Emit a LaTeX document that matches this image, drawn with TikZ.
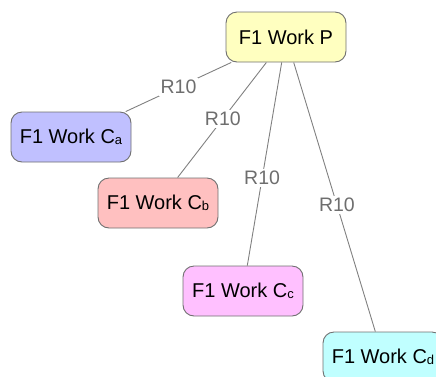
\documentclass[tikz,border=0pt]{standalone}
\usepackage{fontspec}
\setmainfont{Liberation Sans}
\newcommand{\sublbl}[1]{\raisebox{-1pt}{\fontsize{13}{13}\selectfont #1}}
\definecolor{boxline}{HTML}{707070}
\definecolor{edgeline}{HTML}{808080}
\definecolor{lbltext}{HTML}{6E6E6E}
\definecolor{pfill}{HTML}{FFFFC0}
\definecolor{afill}{HTML}{C0C0FF}
\definecolor{bfill}{HTML}{FFC0C0}
\definecolor{cfill}{HTML}{FFC0FF}
\definecolor{dfill}{HTML}{C0FFFF}
\tikzset{
  workbox/.style={draw=boxline, line width=0.9pt, rounded corners=11pt,
    minimum width=120pt, minimum height=50pt, inner sep=0pt,
    font=\fontsize{20}{24}\selectfont, text=black},
  link/.style={draw=edgeline, line width=0.9pt},
  rlabel/.style={fill=white, inner sep=2pt, text=lbltext,
    font=\fontsize{19.5}{22}\selectfont}
}
\begin{document}
\begin{tikzpicture}[x=1pt, y=-1pt]
  \useasboundingbox (0,0) rectangle (436,376);
  \clip (0,0) rectangle (436,376);
  \node[workbox, fill=pfill] (P)  at (286,37)  {F1 Work P};
  \node[workbox, fill=afill] (Ca) at (71,137)  {F1 Work C\sublbl{a}};
  \node[workbox, fill=bfill] (Cb) at (158,203) {F1 Work C\sublbl{b}};
  \node[workbox, fill=cfill] (Cc) at (243,291) {F1 Work C\sublbl{c}};
  \node[workbox, fill=dfill] (Cd) at (383,357) {F1 Work C\sublbl{d}};
  \draw[link] (P) -- node[rlabel, pos=0.5]  {R10} (Ca);
  \draw[link] (P) -- node[rlabel, pos=0.49] {R10} (Cb);
  \draw[link] (P) -- node[rlabel, pos=0.57] {R10} (Cc);
  \draw[link] (P) -- node[rlabel, pos=0.53] {R10} (Cd);
\end{tikzpicture}
\end{document}
